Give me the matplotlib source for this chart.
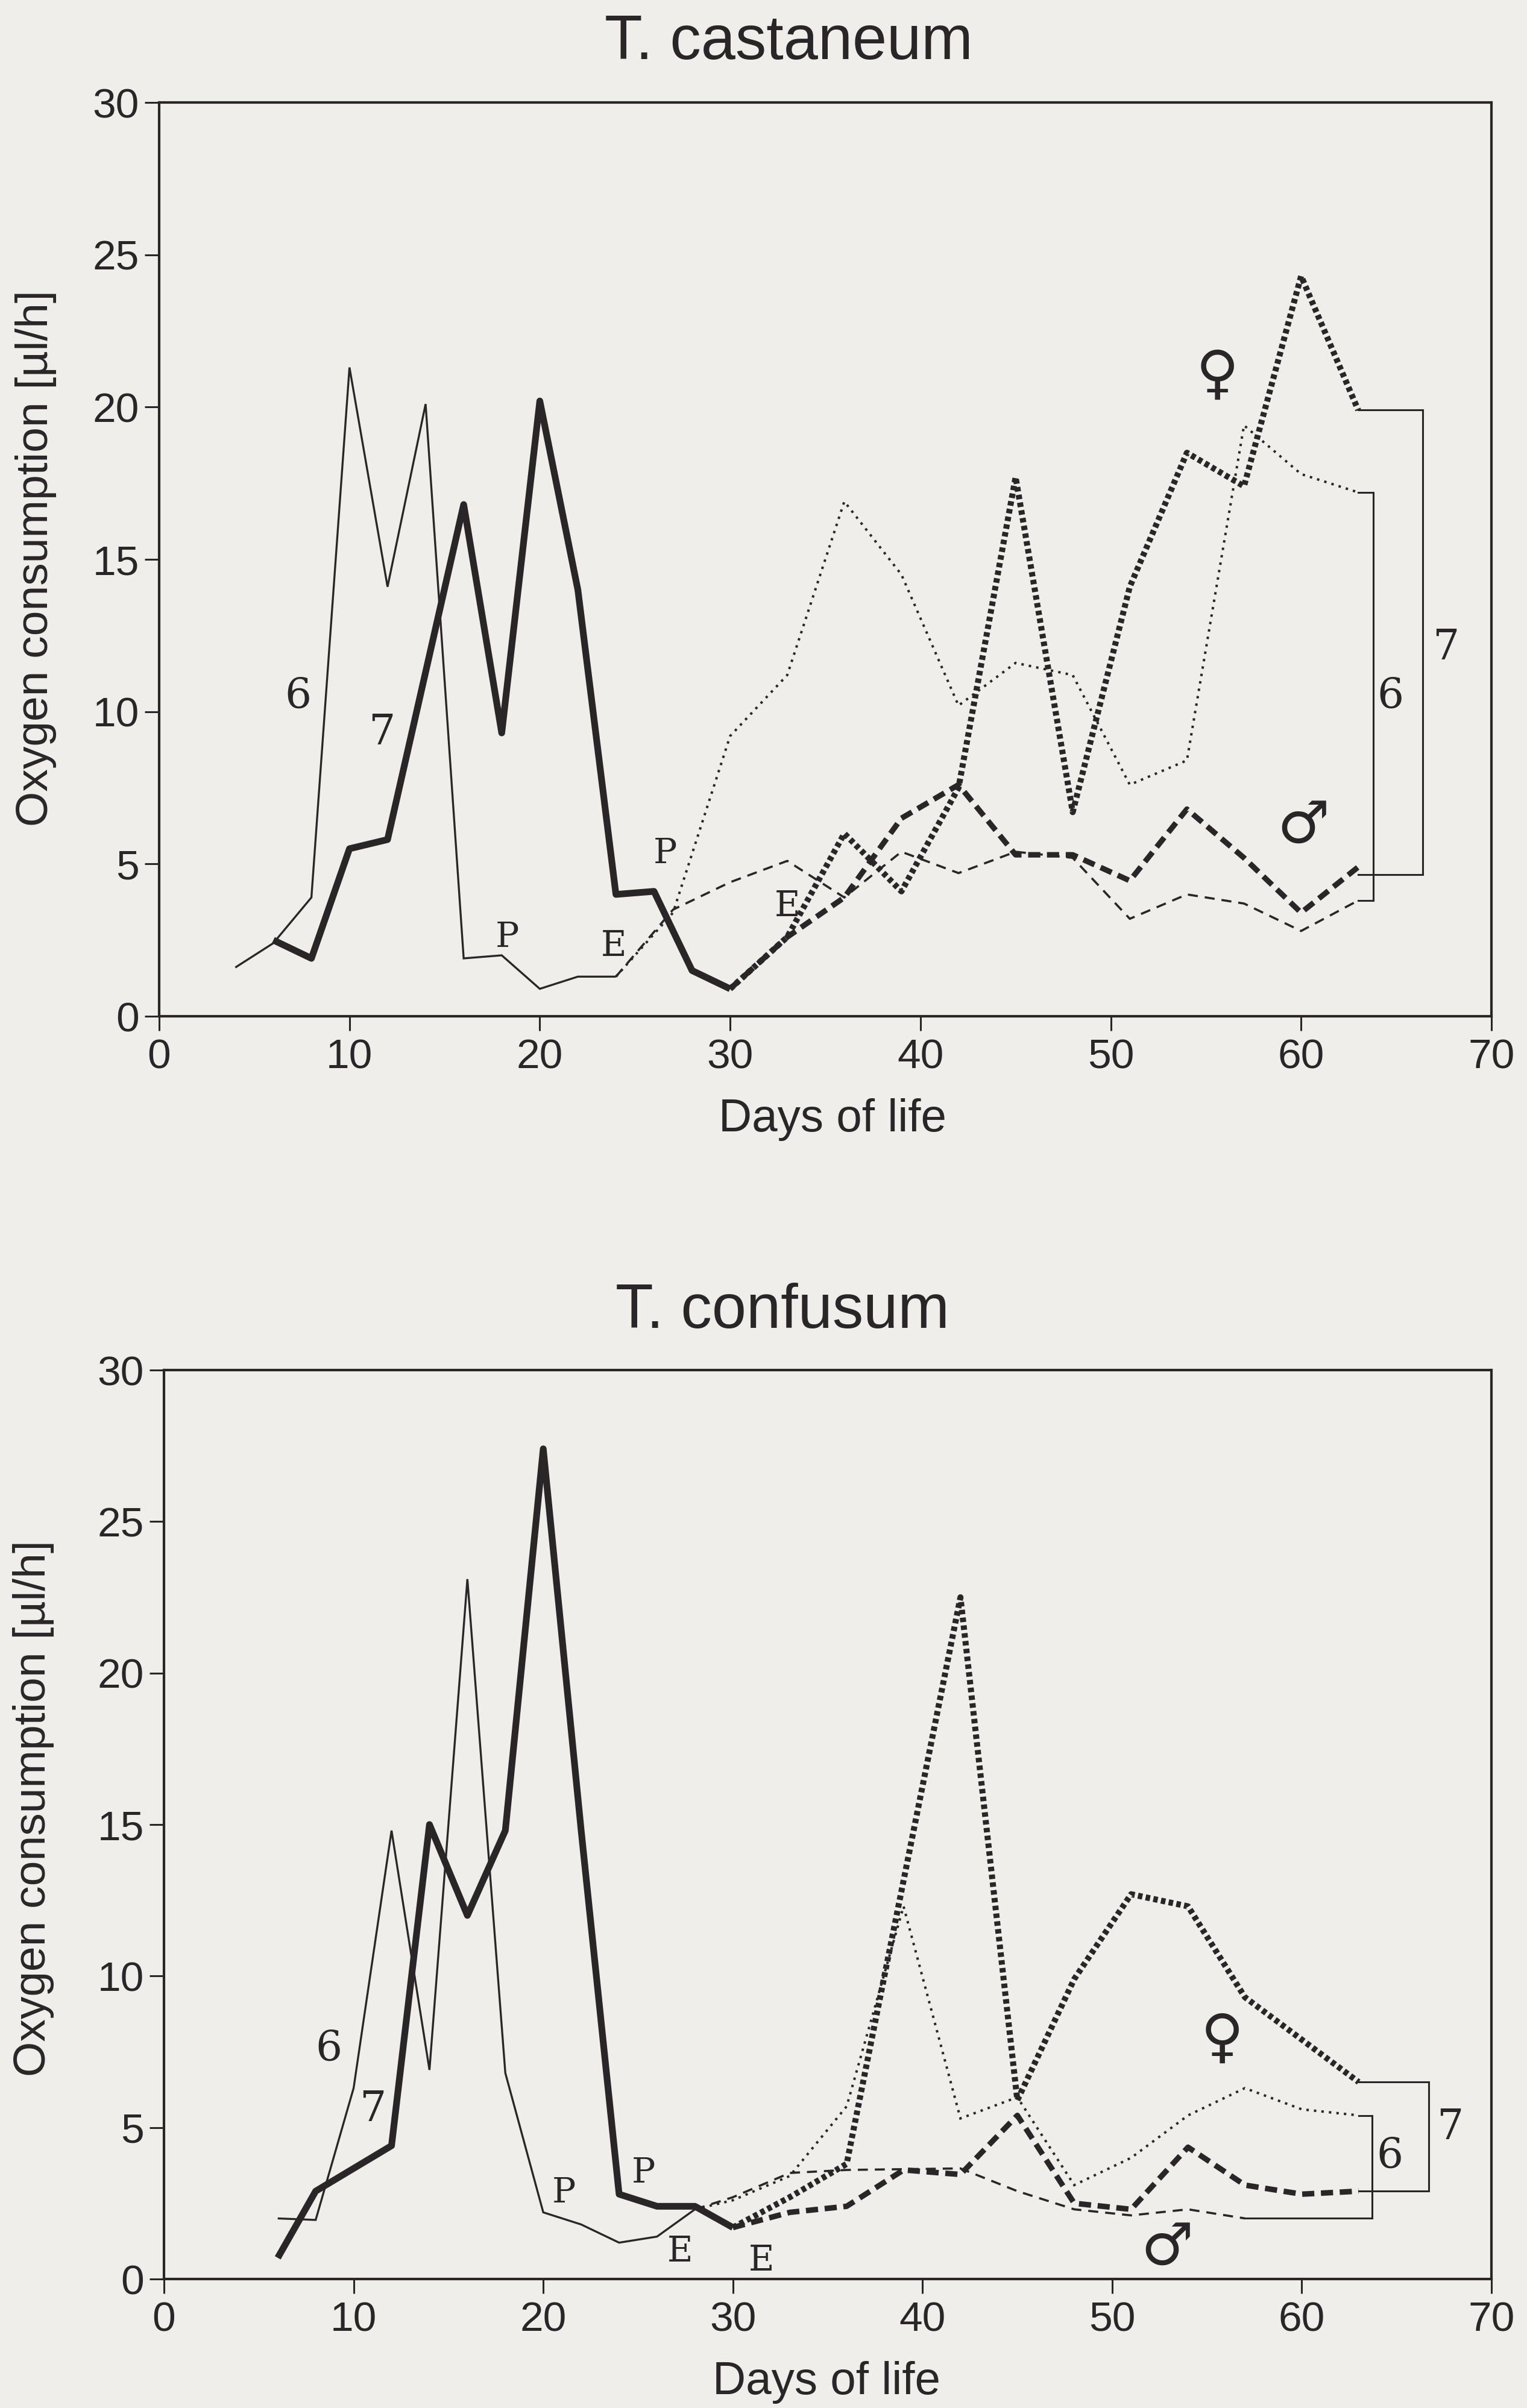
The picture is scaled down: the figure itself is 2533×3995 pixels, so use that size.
import matplotlib
matplotlib.use("Agg")
import matplotlib.pyplot as plt

# ---------------- data ----------------
x_ticks = [0, 10, 20, 30, 40, 50, 60, 70]
y_ticks = [0, 5, 10, 15, 20, 25, 30]
titles = ["T. castaneum", "T. confusum"]
x_label = "Days of life"
y_label = "Oxygen consumption [µl/h]"

# T. castaneum
cas6_larva_x = [4, 6, 8, 10, 12, 14, 16, 18, 20, 22, 24]
cas6_larva_y = [1.6, 2.4, 3.9, 21.3, 14.1, 20.1, 1.9, 2.0, 0.9, 1.3, 1.3]
cas7_larva_x = [6, 8, 10, 12, 16, 18, 20, 22, 24, 26, 28, 30]
cas7_larva_y = [2.5, 1.9, 5.5, 5.8, 16.8, 9.3, 20.2, 14.0, 4.0, 4.1, 1.5, 0.9]
cas6_adult_x = [24, 27, 30, 33, 36, 39, 42, 45, 48, 51, 54, 57, 60, 63]
cas6_female_y = [1.3, 3.4, 9.2, 11.2, 16.9, 14.5, 10.2, 11.6, 11.2, 7.6, 8.4, 19.4, 17.8, 17.2]
cas6_male_y = [1.3, 3.5, 4.4, 5.1, 3.9, 5.4, 4.7, 5.4, 5.2, 3.2, 4.0, 3.7, 2.8, 3.8]
cas7_adult_x = [30, 33, 36, 39, 42, 45, 48, 51, 54, 57, 60, 63]
cas7_female_y = [0.9, 2.6, 6.0, 4.1, 7.5, 17.7, 6.7, 14.1, 18.5, 17.4, 24.3, 19.9]
cas7_male_y = [0.9, 2.6, 3.9, 6.5, 7.6, 5.3, 5.3, 4.45, 6.8, 5.2, 3.4, 4.9]

# T. confusum
con6_larva_x = [6, 8, 10, 12, 14, 16, 18, 20, 22, 24, 26, 28]
con6_larva_y = [2.0, 1.95, 6.3, 14.8, 6.9, 23.1, 6.8, 2.2, 1.8, 1.2, 1.4, 2.3]
con7_larva_x = [6, 8, 12, 14, 16, 18, 20, 22, 24, 26, 28, 30]
con7_larva_y = [0.7, 2.9, 4.4, 15.0, 12.0, 14.8, 27.4, 14.8, 2.8, 2.4, 2.4, 1.7]
con6_female_x = [28, 30, 33, 36, 39, 42, 45, 48, 51, 54, 57, 60, 63]
con6_female_y = [2.3, 2.6, 3.4, 5.7, 12.3, 5.3, 6.0, 3.1, 4.0, 5.4, 6.3, 5.6, 5.4]
con6_male_x = [28, 30, 33, 36, 42, 45, 48, 51, 54, 57]
con6_male_y = [2.3, 2.7, 3.5, 3.6, 3.65, 2.9, 2.3, 2.1, 2.3, 2.0]
con7_female_x = [30, 33, 36, 42, 45, 48, 51, 54, 57, 63]
con7_female_y = [1.7, 2.7, 3.8, 22.5, 5.9, 9.9, 12.7, 12.3, 9.3, 6.5]
con7_male_x = [30, 33, 36, 39, 42, 45, 48, 51, 54, 57, 60, 63]
con7_male_y = [1.7, 2.2, 2.4, 3.6, 3.45, 5.4, 2.5, 2.3, 4.35, 3.1, 2.8, 2.9]

# ---------------- style ----------------
BG = "#efeeea"
INK = "#2a2628"
SANS = ["Liberation Sans", "DejaVu Sans"]
SERIF = ["DejaVu Serif"]
SYM = ["DejaVu Sans"]

W, H = 2533, 3995
fig = plt.figure(figsize=(W / 100, H / 100), dpi=100, facecolor=BG)


def fx(px):
    return px / W


def fy(py):
    return 1 - py / H


ax_top = fig.add_axes([fx(264), fy(1686), fx(2474 - 264), (1686 - 170) / H])
ax_bot = fig.add_axes([fx(272), fy(3781), fx(2474 - 272), (3781 - 2273) / H])

STY = {
    "thin": dict(lw=2.4, ls="-", join="miter"),
    "thick": dict(lw=8.0, ls="-", join="round"),
    "thin_dot": dict(lw=2.9, ls=(0, (1.0, 2.1)), join="miter"),
    "thin_dash": dict(lw=2.6, ls=(0, (4.6, 3.2)), join="miter"),
    "thick_dot": dict(lw=7.2, ls=(0, (0.75, 0.55)), join="round"),
    "thick_dash": dict(lw=6.6, ls=(0, (2.2, 1.2)), join="round"),
}


def draw(ax, x, y, kind):
    s = STY[kind]
    ax.plot(x, y, color=INK, lw=s["lw"], ls=s["ls"], solid_joinstyle=s["join"],
            dash_joinstyle=s["join"], dash_capstyle="butt", solid_capstyle="butt")


def style_axes(ax):
    ax.set_facecolor(BG)
    ax.set_xlim(0, 70)
    ax.set_ylim(0, 30)
    ax.set_xticks(x_ticks)
    ax.set_yticks(y_ticks)
    ax.set_xticklabels([str(v) for v in x_ticks], fontfamily=SANS, fontsize=50)
    ax.set_yticklabels([str(v) for v in y_ticks], fontfamily=SANS, fontsize=50)
    ax.tick_params(axis="x", direction="out", length=17, width=2.2, pad=9, colors=INK)
    ax.tick_params(axis="y", direction="out", length=17, width=2.2, pad=7, colors=INK)
    for sp in ax.spines.values():
        sp.set_linewidth(3.0)
        sp.set_color(INK)


def bracket(ax, x_end, x_mid, y_top, y_bot, x_bot_start=None):
    if x_bot_start is None:
        x_bot_start = x_end
    ax.plot([x_end, x_mid, x_mid, x_bot_start], [y_top, y_top, y_bot, y_bot],
            color=INK, lw=2.2, solid_joinstyle="miter", clip_on=False)


def lab(ax, x, y, s, size=48, fam=SERIF):
    ax.text(x, y, s, fontsize=size, fontfamily=fam, color=INK, ha="center",
            va="center", clip_on=False)


# ---- top: T. castaneum ----
ax = ax_top
style_axes(ax)
draw(ax, cas6_larva_x, cas6_larva_y, "thin")
draw(ax, cas7_larva_x, cas7_larva_y, "thick")
draw(ax, cas6_adult_x, cas6_female_y, "thin_dot")
draw(ax, cas6_adult_x, cas6_male_y, "thin_dash")
draw(ax, cas7_adult_x, cas7_female_y, "thick_dot")
draw(ax, cas7_adult_x, cas7_male_y, "thick_dash")
bracket(ax, cas7_adult_x[-1], 66.4, cas7_female_y[-1], cas7_male_y[-1] - 0.25)
bracket(ax, cas6_adult_x[-1], 63.8, cas6_female_y[-1], cas6_male_y[-1])
lab(ax, 7.3, 10.5, "6", 50)
lab(ax, 11.7, 9.3, "7", 50)
lab(ax, 18.3, 2.6, "P", 42)
lab(ax, 23.9, 2.3, "E", 42)
lab(ax, 26.6, 5.35, "P", 42)
lab(ax, 33.0, 3.6, "E", 42)
lab(ax, 64.7, 10.5, "6", 50)
lab(ax, 67.6, 12.1, "7", 50)
lab(ax, 55.6, 21.0, "♀", 70, SYM)
lab(ax, 60.1, 6.2, "♂", 70, SYM)

# ---- bottom: T. confusum ----
ax = ax_bot
style_axes(ax)
draw(ax, con6_larva_x, con6_larva_y, "thin")
draw(ax, con7_larva_x, con7_larva_y, "thick")
draw(ax, con6_female_x, con6_female_y, "thin_dot")
draw(ax, con6_male_x, con6_male_y, "thin_dash")
draw(ax, con7_female_x, con7_female_y, "thick_dot")
draw(ax, con7_male_x, con7_male_y, "thick_dash")
bracket(ax, con7_female_x[-1], 66.7, con7_female_y[-1], con7_male_y[-1])
bracket(ax, con6_female_x[-1], 63.7, con6_female_y[-1], con6_male_y[-1],
        x_bot_start=con6_male_x[-1])
lab(ax, 8.7, 7.6, "6", 50)
lab(ax, 11.0, 5.6, "7", 50)
lab(ax, 21.1, 2.85, "P", 42)
lab(ax, 25.3, 3.5, "P", 42)
lab(ax, 27.2, 0.9, "E", 42)
lab(ax, 31.5, 0.6, "E", 42)
lab(ax, 64.65, 4.05, "6", 50)
lab(ax, 67.8, 5.0, "7", 50)
lab(ax, 55.8, 7.9, "♀", 70, SYM)
lab(ax, 52.9, 1.0, "♂", 70, SYM)

# ---- titles and axis labels ----
fig.text(fx(1308), fy(98), titles[0], fontsize=74, fontfamily=SANS, color=INK,
         ha="center", va="baseline")
fig.text(fx(1298), fy(2203), titles[1], fontsize=74, fontfamily=SANS, color=INK,
         ha="center", va="baseline")
fig.text(fx(1381), fy(1877), x_label, fontsize=55, fontfamily=SANS, color=INK,
         ha="center", va="baseline")
fig.text(fx(1371), fy(3972), x_label, fontsize=55, fontfamily=SANS, color=INK,
         ha="center", va="baseline")
fig.text(fx(60), fy(926), y_label, fontsize=54, fontfamily=SANS, color=INK,
         ha="center", va="center", rotation=90)
fig.text(fx(56), fy(3000), y_label, fontsize=54, fontfamily=SANS, color=INK,
         ha="center", va="center", rotation=90)

fig.savefig("out.png", dpi=100, facecolor=BG)
